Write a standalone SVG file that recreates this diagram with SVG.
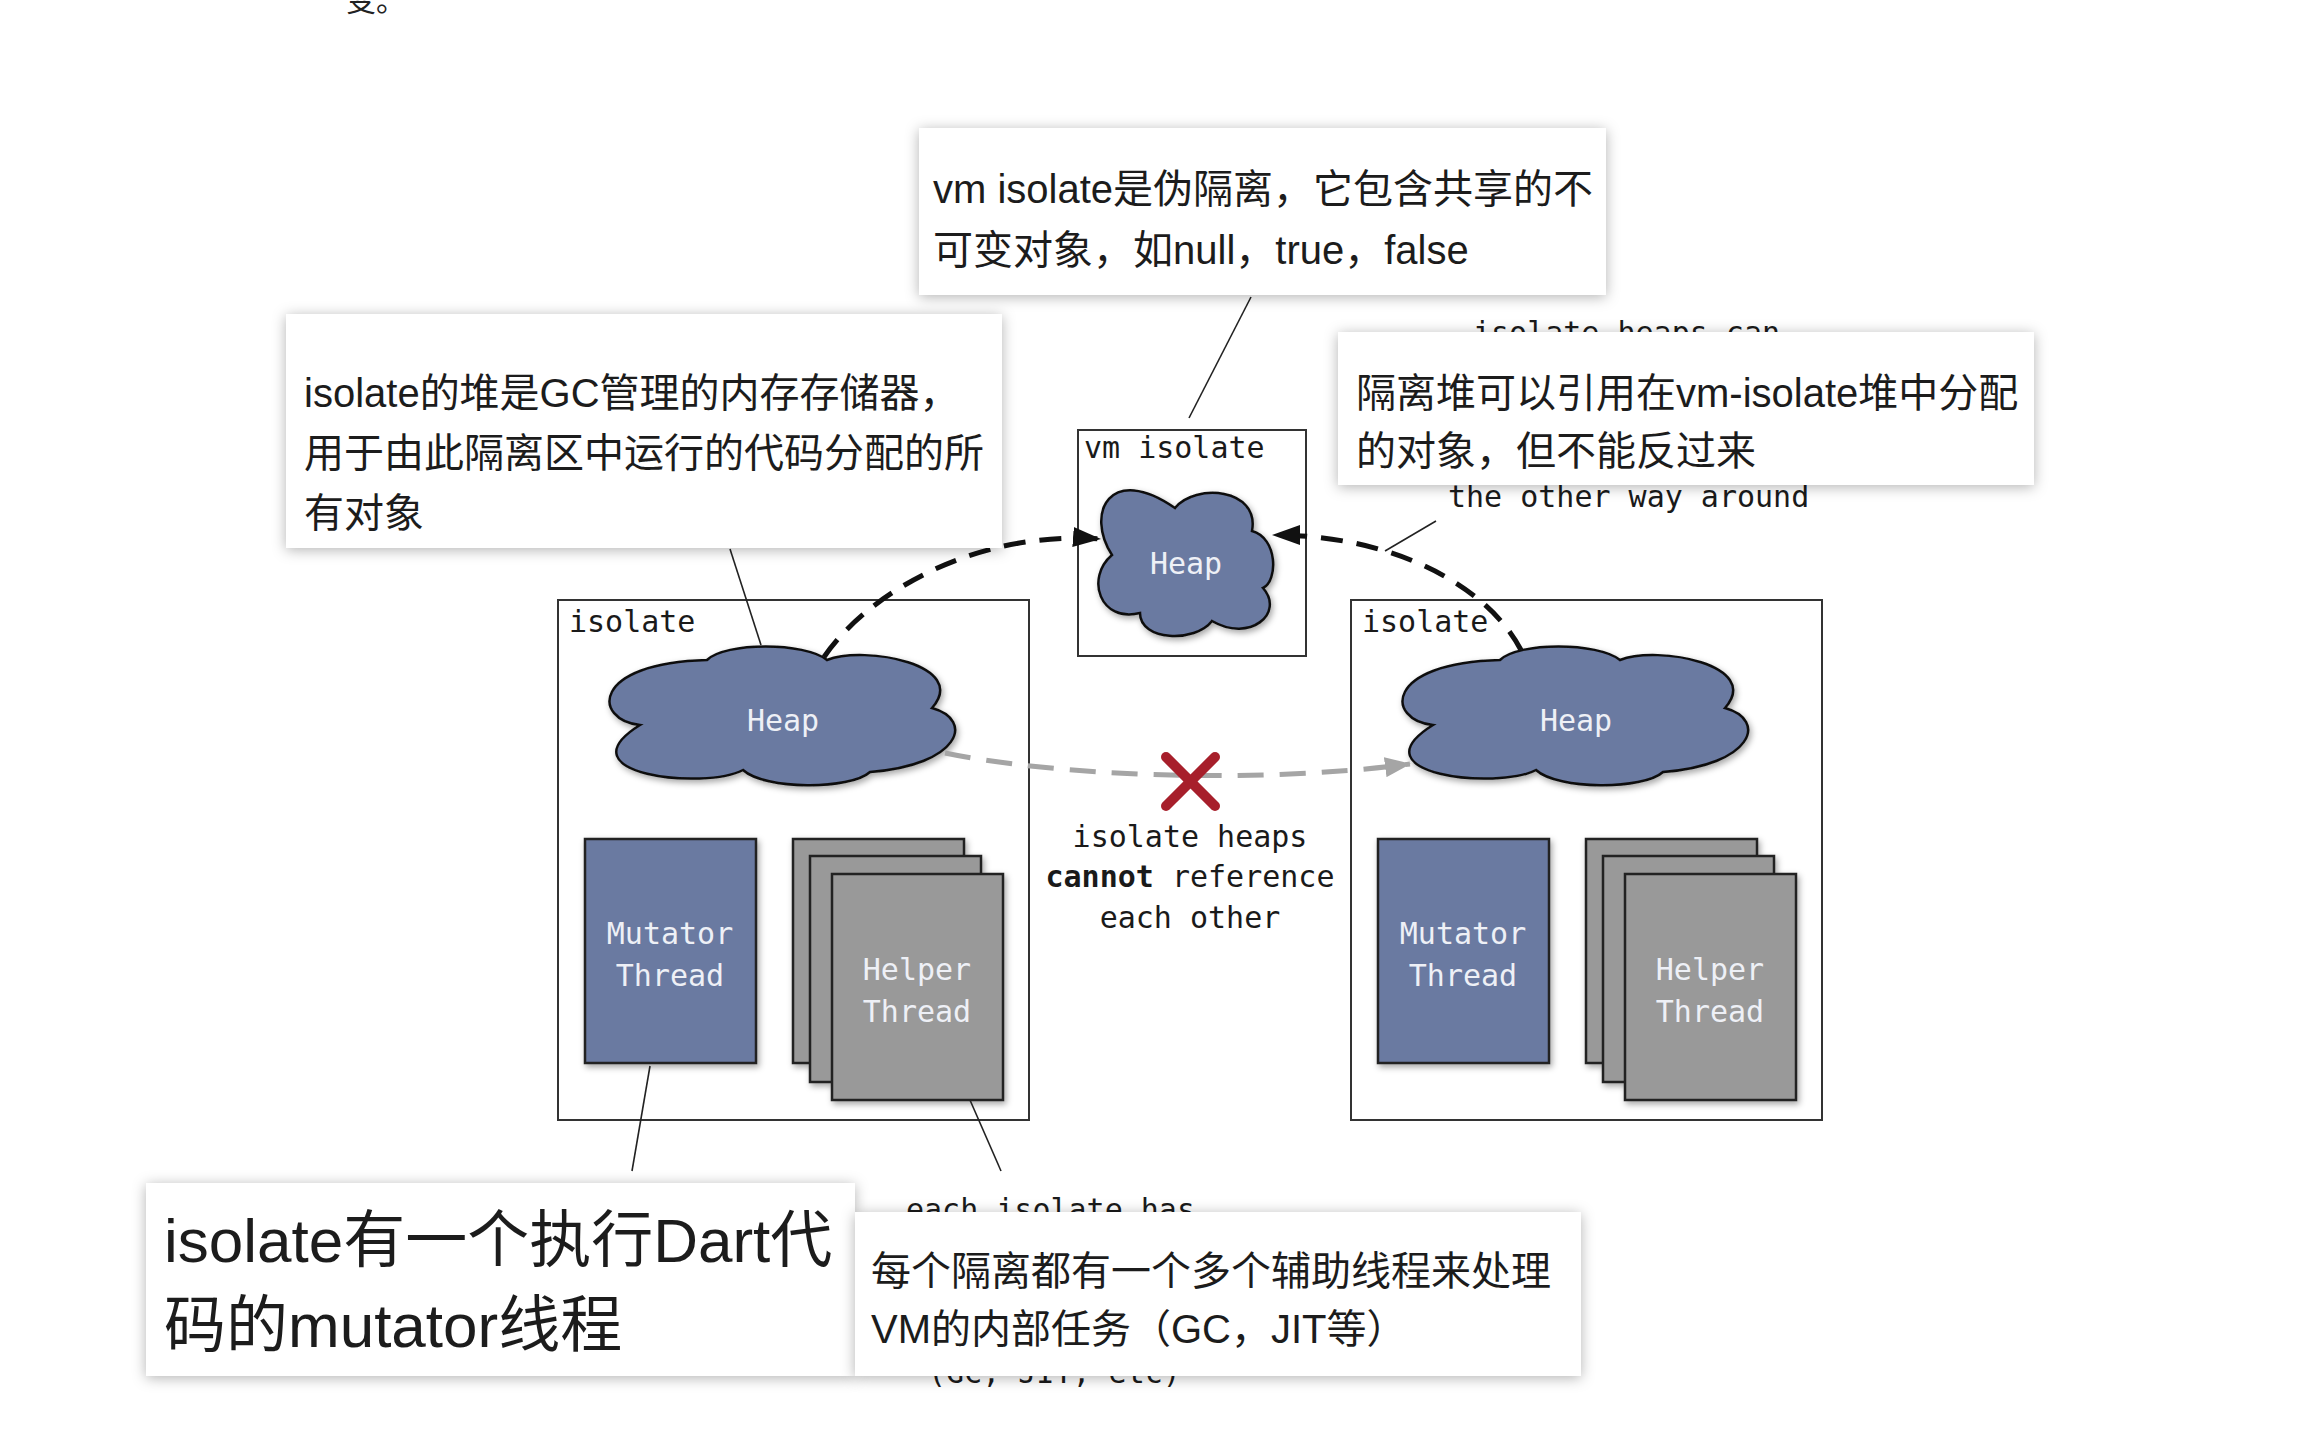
<svg xmlns="http://www.w3.org/2000/svg" width="2316" height="1454" viewBox="0 0 2316 1454">
<style>
.box{fill:#fff;stroke:#333;stroke-width:2}
.heap{fill:#6b7aa1;stroke:#111;stroke-width:2.5}
.mut{fill:#6b7aa1;stroke:#222;stroke-width:2.5}
.help{fill:#999;stroke:#222;stroke-width:2.5}
.mono{font-family:"DejaVu Sans Mono","Liberation Mono",monospace;font-size:30px;fill:#1a1a1a}
.wt{fill:#eef0f6;text-anchor:middle}
.zh{font-family:"Liberation Sans","Noto Sans CJK SC",sans-serif;font-size:40px;fill:#1c1c1c}
.zh.big{font-size:62px}
.callout{fill:#fff}
.lead{stroke:#222;stroke-width:1.6;fill:none}
.blk{fill:none;stroke:#111;stroke-width:5;stroke-dasharray:22 14}
.gry{fill:none;stroke:#a5a5a5;stroke-width:5;stroke-dasharray:26 16}
</style>
<defs>
<filter id="sh" x="-10%" y="-10%" width="125%" height="130%"><feDropShadow dx="2" dy="3" stdDeviation="3" flood-color="#000" flood-opacity="0.35"/></filter>
<filter id="cs" x="-10%" y="-25%" width="120%" height="150%"><feDropShadow dx="0" dy="2" stdDeviation="7" flood-color="#000" flood-opacity="0.3"/></filter>
<marker id="ah" markerUnits="userSpaceOnUse" markerWidth="28" markerHeight="20" viewBox="0 0 28 20" refX="27" refY="10" orient="auto"><path d="M0,0 L28,10 L0,20 z" fill="#111"/></marker>
<marker id="ag" markerUnits="userSpaceOnUse" markerWidth="26" markerHeight="20" viewBox="0 0 26 20" refX="25" refY="10" orient="auto"><path d="M0,0 L26,10 L0,20 z" fill="#a5a5a5"/></marker>
<path id="cloud" d="M35,80 C-12,75 -15,18 102,15 C120,-3 200,-3 222,15 C260,0 365,20 327,63 C370,75 355,120 265,127 C245,145 160,145 138,125 C100,145 -45,130 35,80 Z"/>
</defs>
<rect width="2316" height="1454" fill="#fff"/>
<text x="346" y="11" font-family="'Noto Sans CJK SC',sans-serif" font-size="30" fill="#222">变。</text>

<g id="isolate-left">
<rect class="box" x="558" y="600" width="471" height="520"/>
<text class="mono" x="569" y="632">isolate</text>
<g id="heap-left" filter="url(#sh)"><use href="#cloud" class="heap" x="605" y="645"/></g>
<text class="mono wt" x="783" y="731">Heap</text>
<g id="mutator-left" filter="url(#sh)"><rect class="mut" x="585" y="839" width="171" height="224"/></g>
<text class="mono wt" x="670" y="944">Mutator</text>
<text class="mono wt" x="670" y="986">Thread</text>
<g id="helper-left" filter="url(#sh)">
<rect class="help" x="793" y="839" width="171" height="224"/>
<rect class="help" x="810" y="856" width="171" height="226"/>
<rect class="help" x="832" y="874" width="171" height="226"/>
</g>
<text class="mono wt" x="917" y="980">Helper</text>
<text class="mono wt" x="917" y="1022">Thread</text>
</g>

<g id="isolate-right" transform="translate(793,0)">
<rect class="box" x="558" y="600" width="471" height="520"/>
<text class="mono" x="569" y="632">isolate</text>
<g id="heap-right" filter="url(#sh)"><use href="#cloud" class="heap" x="605" y="645"/></g>
<text class="mono wt" x="783" y="731">Heap</text>
<g id="mutator-right" filter="url(#sh)"><rect class="mut" x="585" y="839" width="171" height="224"/></g>
<text class="mono wt" x="670" y="944">Mutator</text>
<text class="mono wt" x="670" y="986">Thread</text>
<g id="helper-right" filter="url(#sh)">
<rect class="help" x="793" y="839" width="171" height="224"/>
<rect class="help" x="810" y="856" width="171" height="226"/>
<rect class="help" x="832" y="874" width="171" height="226"/>
</g>
<text class="mono wt" x="917" y="980">Helper</text>
<text class="mono wt" x="917" y="1022">Thread</text>
</g>

<g id="vm-isolate">
<rect class="box" x="1078" y="430" width="228" height="226"/>
<text class="mono" x="1084" y="458">vm isolate</text>
<g filter="url(#sh)"><path class="heap" transform="translate(1100,493)" d="M12,62 C-15,20 10,-30 75,15 C95,-10 160,-5 152,38 C178,45 178,88 163,95 C185,120 150,150 112,128 C95,150 40,148 40,120 C0,130 -15,85 12,62 Z"/></g>
<text class="mono wt" x="1186" y="574">Heap</text>
</g>

<g id="connectors">
<path class="blk" d="M824,657 C870,590 980,530 1100,539" marker-end="url(#ah)"/>
<path class="blk" d="M1521,650 C1490,590 1400,535 1273,535" marker-end="url(#ah)"/>
<path class="gry" d="M945,753 C1050,775 1250,785 1410,764" marker-end="url(#ag)"/>
<g stroke="#a71f2b" stroke-width="10" stroke-linecap="round">
<line x1="1166" y1="757" x2="1215" y2="806"/>
<line x1="1215" y1="757" x2="1166" y2="806"/>
</g>
<line class="lead" x1="1251" y1="297" x2="1189" y2="418"/>
<line class="lead" x1="730" y1="549" x2="761" y2="645"/>
<line class="lead" x1="1436" y1="521" x2="1385" y2="551"/>
<line class="lead" x1="650" y1="1066" x2="632" y2="1171"/>
<line class="lead" x1="970" y1="1100" x2="1001" y2="1171"/>
</g>

<g id="no-ref-label" class="mono" text-anchor="middle">
<text x="1190" y="847">isolate heaps</text>
<text x="1190" y="887"><tspan font-weight="bold">cannot</tspan> reference</text>
<text x="1190" y="928">each other</text>
</g>

<g id="orig-notes" class="mono">
<text x="1473" y="343">isolate heaps can</text>
<text x="1448" y="507">the other way around</text>
<text x="906" y="1220">each isolate has</text>
<text x="928" y="1383">(GC, JIT, etc)</text>
</g>

<g id="callout-vm">
<rect class="callout" filter="url(#cs)" x="919" y="128" width="687" height="167"/>
<text class="zh" x="933" y="203">vm isolate是伪隔离，它包含共享的不</text>
<text class="zh" x="933" y="264">可变对象，如null，true，false</text>
</g>
<g id="callout-heap">
<rect class="callout" filter="url(#cs)" x="286" y="314" width="716" height="234"/>
<text class="zh" x="304" y="407">isolate的堆是GC管理的内存存储器，</text>
<text class="zh" x="304" y="467">用于由此隔离区中运行的代码分配的所</text>
<text class="zh" x="304" y="527">有对象</text>
</g>
<g id="callout-ref">
<rect class="callout" filter="url(#cs)" x="1338" y="332" width="696" height="153"/>
<text class="zh" x="1356" y="407">隔离堆可以引用在vm-isolate堆中分配</text>
<text class="zh" x="1356" y="465">的对象，但不能反过来</text>
</g>
<g id="callout-mutator">
<rect class="callout" filter="url(#cs)" x="146" y="1183" width="709" height="193"/>
<text class="zh big" x="164" y="1262">isolate有一个执行Dart代</text>
<text class="zh big" x="164" y="1347">码的mutator线程</text>
</g>
<g id="callout-helper">
<rect class="callout" filter="url(#cs)" x="855" y="1212" width="726" height="164"/>
<text class="zh" x="871" y="1285">每个隔离都有一个多个辅助线程来处理</text>
<text class="zh" x="871" y="1343">VM的内部任务（GC，JIT等）</text>
</g>
</svg>
